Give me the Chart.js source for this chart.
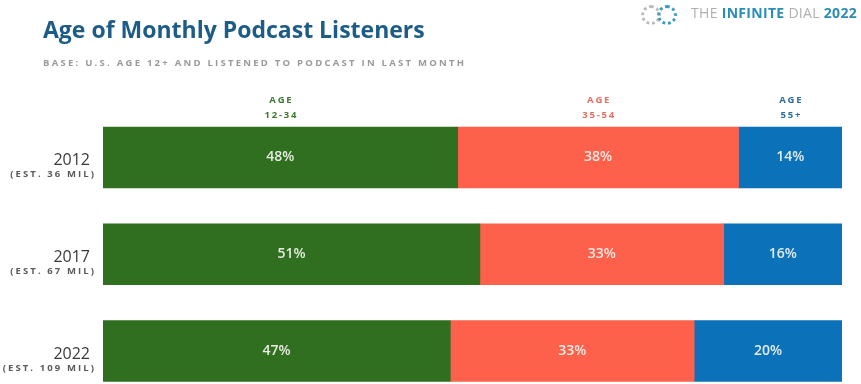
<!DOCTYPE html>
<html>
<head>
<meta charset="utf-8">
<script src="https://cdn.jsdelivr.net/npm/chart.js@4"></script>
<style>
  html, body { margin: 0; padding: 0; background: #fff; overflow: hidden; }
  #wrap { position: relative; width: 861px; height: 384px; }
  #chart { position: absolute; left: 0; top: 0; }
  .txt { position: absolute; white-space: nowrap; font-family: 'Open Sans', sans-serif; }
  #title { left: 43px; top: 18px; font-size: 23px; line-height: 23px; font-weight: 700; color: #1c5c87; }
  #base { left: 43px; top: 58px; font-size: 9.5px; line-height: 10px; font-weight: 700; color: #9a9a9a; letter-spacing: 2.25px; }
  #logo { right: 4px; top: 6px; font-size: 14px; line-height: 14px; color: #b0b0b0; letter-spacing: 0.3px; }
  #logo b { color: #2b8db5; font-weight: 700; }
  .ring { position: absolute; top: 5px; width: 14px; height: 14px; border-radius: 50%; border: 3px dotted; }
</style>
</head>
<body>
<div id="wrap">
  <canvas id="chart" width="861" height="384"></canvas>
  <div class="txt" id="title">Age of Monthly Podcast Listeners</div>
  <div class="txt" id="base">BASE: U.S. AGE 12+ AND LISTENED TO PODCAST IN LAST MONTH</div>
  <div class="ring" style="left:641px; border-color:#b8bcc0;"></div>
  <div class="ring" style="left:657px; border-color:#3a9cc0;"></div>
  <div class="txt" id="logo">THE <b>INFINITE</b> DIAL <b>2022</b></div>
</div>
<script>
const years = ['2012', '2017', '2022'];
const estimates = ['(EST. 36 MIL)', '(EST. 67 MIL)', '(EST. 109 MIL)'];
const ageGroups = [['AGE', '12-34'], ['AGE', '35-54'], ['AGE', '55+']];
const age12to34 = [48, 51, 47];
const age35to54 = [38, 33, 33];
const age55plus = [14, 16, 20];

const barColors = ['#2f6f1f', '#fd604b', '#0b71b9'];
const headColors = ['#3f7a2e', '#e26f60', '#2f6d99'];

// linear index axis so the rows can sit where the original has them
const toPoints = (vals) => vals.map((v, i) => ({x: v, y: i}));

const labelPlugin = {
    id: 'labelPlugin',
    afterDatasetsDraw(chart) {
        const ctx = chart.ctx;
        const yScale = chart.scales.y;
        const left = chart.chartArea.left;
        ctx.save();
        ctx.textBaseline = 'middle';

        // row labels: year + audience estimate
        years.forEach((yr, i) => {
            const y = yScale.getPixelForValue(i);
            ctx.textAlign = 'right';
            ctx.letterSpacing = '0px';
            ctx.fillStyle = '#3a3a3a';
            ctx.font = '500 16px "Open Sans"';
            ctx.fillText(yr, left - 13, y + 3);
            ctx.letterSpacing = '2.1px';
            ctx.fillStyle = '#5a5a5a';
            ctx.font = '700 9.5px "Open Sans"';
            ctx.fillText(estimates[i], left - 7, y + 17);
        });

        chart.data.datasets.forEach((ds, d) => {
            const meta = chart.getDatasetMeta(d);
            meta.data.forEach((bar, i) => {
                const cx = (bar.x + bar.base) / 2;
                // percentage inside the segment
                ctx.textAlign = 'center';
                ctx.letterSpacing = '0px';
                ctx.fillStyle = 'rgba(245,245,240,0.92)';
                ctx.font = '600 14px "Open Sans"';
                ctx.fillText(ds.data[i].x + '%', cx, bar.y);
                // age group header above first row
                if (i === 0) {
                    const top = bar.y - bar.height / 2;
                    ctx.fillStyle = headColors[d];
                    ctx.font = '700 9.5px "Open Sans"';
                    ctx.letterSpacing = '1.8px';
                    ctx.fillText(ageGroups[d][0], cx + 1, top - 27);
                    ctx.fillText(ageGroups[d][1], cx + 1, top - 12);
                }
            });
        });
        ctx.restore();
    }
};

const chart = new Chart(document.getElementById('chart'), {
    type: 'bar',
    data: {
        datasets: [
            {label: 'Age 12-34', data: toPoints(age12to34), backgroundColor: barColors[0]},
            {label: 'Age 35-54', data: toPoints(age35to54), backgroundColor: barColors[1]},
            {label: 'Age 55+', data: toPoints(age55plus), backgroundColor: barColors[2]}
        ]
    },
    options: {
        indexAxis: 'y',
        responsive: false,
        animation: false,
        barThickness: 61,
        borderWidth: 0,
        layout: {padding: {left: 103, right: 19, top: 92, bottom: 2}},
        plugins: {
            legend: {display: false},
            tooltip: {enabled: false}
        },
        scales: {
            x: {stacked: true, min: 0, max: 100, display: false},
            y: {
                type: 'linear',
                stacked: true,
                reverse: true,
                offset: false,
                min: -0.677,
                max: 2.32,
                display: false
            }
        }
    },
    plugins: [labelPlugin]
});
</script>
</body>
</html>
